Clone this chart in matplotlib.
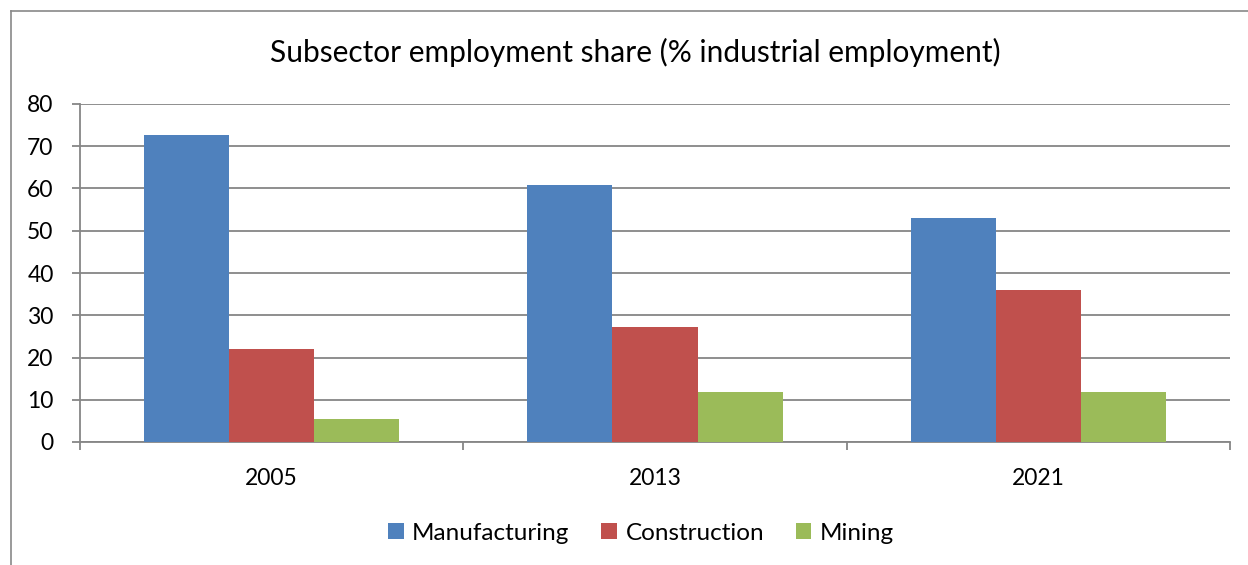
import numpy as np
from matplotlib import pyplot as plt
from matplotlib.lines import Line2D

# Chart data
years = ['2005', '2013', '2021']
manufacturing = [72.7, 60.9, 53.0]
construction = [21.9, 27.2, 36.0]
mining = [5.4, 11.9, 11.9]

series = [('Manufacturing', manufacturing, '#4F81BD'),
          ('Construction', construction, '#C0504D'),
          ('Mining', mining, '#9BBB59')]

plt.rcParams['font.family'] = ['Lato', 'DejaVu Sans']

W, H = 1248, 565
fig = plt.figure(figsize=(W / 100, H / 100), dpi=100)

# outer chart border (only the top and left edges are visible)
border = '#898989'
fig.add_artist(Line2D([11 / W, 11 / W], [0, 1 - 11 / H], color=border, linewidth=1.2, transform=fig.transFigure))
fig.add_artist(Line2D([11 / W, 1], [1 - 11 / H, 1 - 11 / H], color=border, linewidth=1.2, transform=fig.transFigure))

ax = fig.add_axes([80 / W, (H - 442) / H, 1150 / W, 338 / H])

x = np.arange(len(years))
barW = 1 / 4.5
for i, (name, vals, col) in enumerate(series):
    ax.bar(x + (i - 1) * barW, vals, width=barW, color=col, label=name, zorder=3)

grid = '#868686'
ax.set_ylim(0, 80)
ax.set_xlim(-0.5, 2.5)
ax.set_yticks(range(0, 81, 10))
ax.yaxis.grid(True, color=grid, linewidth=1.3, zorder=0)
ax.set_axisbelow(True)

for s in ['top', 'right']:
    ax.spines[s].set_visible(False)
for s in ['left', 'bottom']:
    ax.spines[s].set_color(grid)
    ax.spines[s].set_linewidth(1.3)

ax.tick_params(axis='y', length=6, width=1.3, color=grid, labelsize=16.5, pad=13)
ax.set_xticks(x)
ax.set_xticklabels(years)
ax.tick_params(axis='x', which='major', length=0, labelsize=16.5, pad=19)
ax.set_xticks([-0.5, 0.5, 1.5, 2.5], minor=True)
ax.tick_params(axis='x', which='minor', length=6, width=1.3, color=grid)

fig.text(635 / W, 1 - 52 / H, 'Subsector employment share (% industrial employment)',
         ha='center', va='center', fontsize=21.5)

ax.legend(loc='center', bbox_to_anchor=(641 / W, 1 - 533 / H), bbox_transform=fig.transFigure,
          ncol=3, frameon=False, fontsize=17.5, handlelength=0.65, handleheight=0.65,
          handletextpad=0.35, columnspacing=1.3)

fig.savefig('out.png', dpi=100)
